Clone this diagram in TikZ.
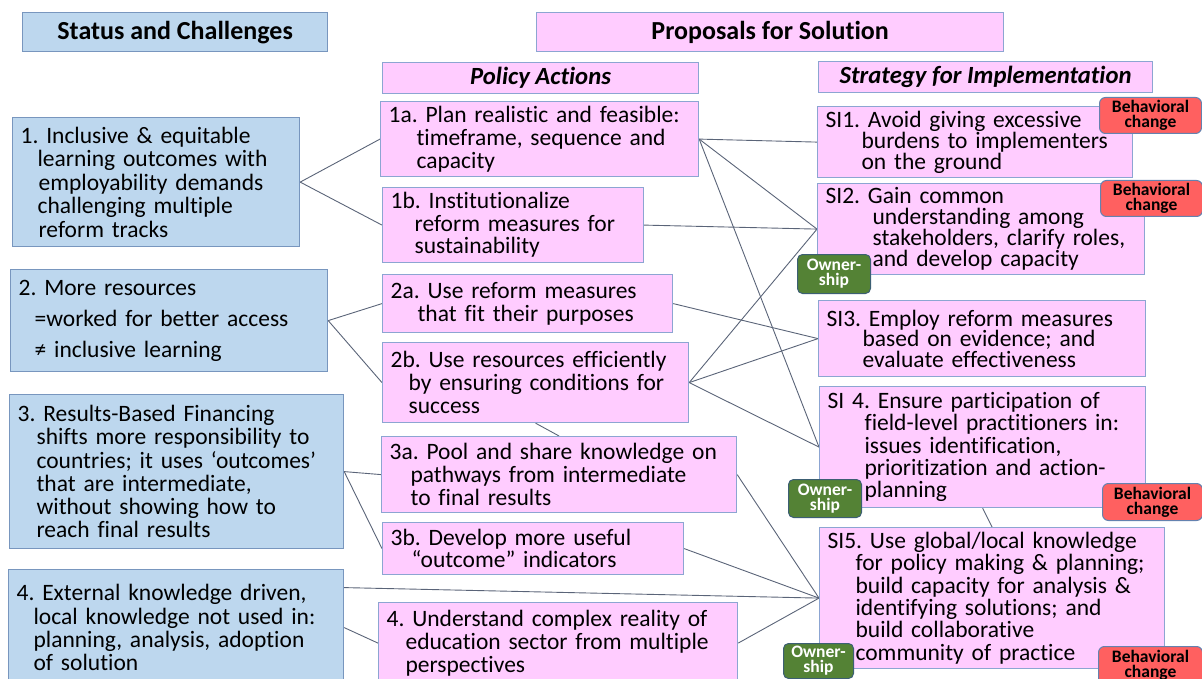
\documentclass[tikz,border=0pt]{standalone}
\usepackage{fontspec}
\setmainfont{Carlito}[Ligatures={NoCommon,NoContextual}, Contextuals={NoAlternate}, RawFeature={-clig}]
\usetikzlibrary{positioning,backgrounds}
\frenchspacing

\definecolor{chfill}{RGB}{189,215,238}
\definecolor{chline}{RGB}{120,150,190}
\definecolor{pafill}{RGB}{255,204,255}
\definecolor{paline}{RGB}{140,165,210}
\definecolor{bcfill}{RGB}{255,96,96}
\definecolor{bcline}{RGB}{100,130,175}
\definecolor{owfill}{RGB}{84,130,53}
\definecolor{owline}{RGB}{60,95,115}
\definecolor{link}{RGB}{90,100,120}

\newcommand{\boxfont}[1]{\fontsize{23.5}{#1}\selectfont}
\newcommand{\headfont}{\fontsize{26}{28}\selectfont\bfseries}
\newcommand{\subfont}{\fontsize{24.7}{27}\selectfont\bfseries\itshape}
\newcommand{\tagfont}{\fontsize{17.5}{15}\selectfont\bfseries}

\tikzset{
  basebox/.style={
    anchor=north west,
    align=left,
    inner xsep=8pt,
    inner ysep=1pt,
    line width=1.2pt,
    font=\boxfont{23.3}
  },
  chbox/.style={basebox, draw=chline, fill=chfill},
  pabox/.style={basebox, draw=paline, fill=pafill},
  headbox/.style={anchor=north west, align=center, line width=1.2pt, inner sep=0pt, font=\headfont},
  behav/.style={anchor=north west, align=center, draw=bcline, fill=bcfill, rounded corners=6pt,
    line width=1pt, inner sep=0pt, font=\tagfont},
  owner/.style={anchor=north west, align=center, draw=owline, fill=owfill, text=white,
    rounded corners=5pt, line width=1pt, inner sep=0pt, font=\tagfont},
  connect/.style={draw=link, line width=0.9pt}
}

\begin{document}
\begin{tikzpicture}[x=1pt, y=-1pt]
  \useasboundingbox (0,0) rectangle (1202,679);

  % headings
  \node[headbox, draw=chline, fill=chfill, minimum width=305pt, minimum height=39pt] (hd_sc) at (22,12) {Status and Challenges};
  \node[headbox, draw=paline, fill=pafill, minimum width=467pt, minimum height=39pt] (hd_ps) at (536,12) {Proposals for Solution};
  \node[headbox, draw=paline, fill=pafill, minimum width=316pt, minimum height=31pt, font=\subfont] (hd_pa) at (382,62) {Policy Actions};
  \node[headbox, draw=paline, fill=pafill, minimum width=334pt, minimum height=31pt, font=\subfont] (hd_si) at (818,61) {Strategy for Implementation};

  % status and challenges
  \node[chbox, text width=271pt, minimum height=129pt, font=\boxfont{23.5}] (c_1) at (12,117)
    {1. Inclusive \& equitable\\\hspace*{17pt}learning outcomes with\\\hspace*{18pt}employability demands\\\hspace*{17pt}challenging multiple\\\hspace*{18pt}reform tracks};
  \node[chbox, text width=301pt, minimum height=102pt, font=\boxfont{31}] (c_2) at (10,269)
    {2. More resources\\\hspace*{16pt}=worked for better access\\\hspace*{16pt}≠ inclusive learning};
  \node[chbox, text width=318pt, minimum height=154pt] (c_3) at (9,394)
    {3. Results-Based Financing\\\hspace*{19pt}shifts more responsibility to\\\hspace*{19pt}countries; it uses ‘outcomes’\\\hspace*{19pt}that are intermediate,\\\hspace*{19pt}without showing how to\\\hspace*{19pt}reach final results};
  \node[chbox, text width=319pt, minimum height=116pt] (c_4) at (8,569)
    {4. External knowledge driven,\\\hspace*{17pt}local knowledge not used in:\\\hspace*{17pt}planning, analysis, adoption\\\hspace*{17pt}of solution};

  % policy actions
  \node[pabox, text width=302pt, minimum height=75pt] (pa_1a) at (380,101)
    {1a. Plan realistic and feasible:\\\hspace*{28pt}timeframe, sequence and\\\hspace*{28pt}capacity};
  \node[pabox, text width=245pt, minimum height=75pt, font=\boxfont{22.5}] (pa_1b) at (382,187)
    {1b. Institutionalize\\\hspace*{24pt}reform measures for\\\hspace*{24pt}sustainability};
  \node[pabox, text width=274pt, minimum height=58pt] (pa_2a) at (382,274)
    {2a. Use reform measures\\\hspace*{27pt}that fit their purposes};
  \node[pabox, text width=290pt, minimum height=80pt] (pa_2b) at (382,342)
    {2b. Use resources efficiently\\\hspace*{18pt}by ensuring conditions for\\\hspace*{18pt}success};
  \node[pabox, text width=339pt, minimum height=76pt] (pa_3a) at (381,436)
    {3a. Pool and share knowledge on\\\hspace*{21pt}pathways from intermediate\\\hspace*{21pt}to final results};
  \node[pabox, text width=285pt, minimum height=52pt, font=\boxfont{22.3}] (pa_3b) at (382,522)
    {3b. Develop more useful\\\hspace*{21pt}“outcome” indicators};
  \node[pabox, text width=343pt, minimum height=81pt] (pa_4) at (378,602)
    {4. Understand complex reality of\\\hspace*{19pt}education sector from multiple\\\hspace*{19pt}perspectives};

  % strategy for implementation
  \node[pabox, text width=299pt, minimum height=71pt, font=\boxfont{21}] (si_1) at (817,106)
    {SI1. Avoid giving excessive\\\hspace*{36pt}burdens to implementers\\\hspace*{36pt}on the ground};
  \node[pabox, text width=311pt, minimum height=91pt, font=\boxfont{21}] (si_2) at (817,183)
    {SI2. Gain common\\\hspace*{47pt}understanding among\\\hspace*{47pt}stakeholders, clarify roles,\\\hspace*{47pt}and develop capacity};
  \node[pabox, text width=311pt, minimum height=76pt, font=\boxfont{20.5}] (si_3) at (818,300)
    {SI3. Employ reform measures\\\hspace*{36pt}based on evidence; and\\\hspace*{36pt}evaluate effectiveness};
  \node[pabox, text width=310pt, minimum height=121pt, font=\boxfont{22.3}] (si_4) at (819,386)
    {SI 4. Ensure participation of\\\hspace*{37pt}field-level practitioners in:\\\hspace*{37pt}issues identification,\\\hspace*{37pt}prioritization and action-\\\hspace*{37pt}planning};
  \node[pabox, text width=329pt, minimum height=141pt, font=\boxfont{22.3}] (si_5) at (819,527)
    {SI5. Use global/local knowledge\\\hspace*{28pt}for policy making \& planning;\\\hspace*{28pt}build capacity for analysis \&\\\hspace*{28pt}identifying solutions; and\\\hspace*{28pt}build collaborative\\\hspace*{28pt}community of practice};

  % tags
  \node[behav, minimum width=102pt, minimum height=36pt] (bc_1) at (1099,97) {Behavioral\\change};
  \node[behav, minimum width=102pt, minimum height=36pt] (bc_2) at (1100,180) {Behavioral\\change};
  \node[behav, minimum width=100pt, minimum height=37pt] (bc_4) at (1102,483) {Behavioral\\change};
  \node[behav, minimum width=104pt, minimum height=38pt] (bc_5) at (1098,646) {Behavioral\\change};
  \node[owner, minimum width=73pt, minimum height=39pt] (ow_2) at (797,254) {Owner-\\ship};
  \node[owner, minimum width=73pt, minimum height=38pt] (ow_4) at (788,479) {Owner-\\ship};
  \node[owner, minimum width=70pt, minimum height=35pt] (ow_5) at (783,643) {Owner-\\ship};

  % links
  \begin{pgfonlayer}{background}
    \draw[connect] (c_1.east) -- (pa_1a.west);
    \draw[connect] (c_1.east) -- (pa_1b.west);
    \draw[connect] (c_2.east) -- (pa_2a.west);
    \draw[connect] (c_2.east) -- (pa_2b.west);
    \draw[connect] (c_3.east) -- (pa_3a.west);
    \draw[connect] (c_3.east) -- (pa_3b.west);
    \draw[connect] (c_4.east) -- (pa_4.west);
    \draw[connect] ([yshift=40pt]c_4.east) -- (si_5.west);
    \draw[connect] (pa_1a.east) -- (si_1.west);
    \draw[connect] (pa_1a.east) -- (si_2.west);
    \draw[connect] (pa_1a.east) -- (si_4.west);
    \draw[connect] (pa_1b.east) -- (si_2.west);
    \draw[connect] (pa_2a.east) -- (si_3.west);
    \draw[connect] (pa_2b.east) -- (si_2.west);
    \draw[connect] (pa_2b.east) -- (si_3.west);
    \draw[connect] (pa_2b.east) -- (si_4.west);
    \draw[connect] (pa_2b.south) -- (pa_3a.north);
    \draw[connect] (pa_3a.east) -- (si_5.west);
    \draw[connect] (pa_3b.east) -- (si_5.west);
    \draw[connect] (pa_4.east) -- (si_5.west);
    \draw[connect] (si_4.south) -- (si_5.north);
  \end{pgfonlayer}
\end{tikzpicture}
\end{document}
